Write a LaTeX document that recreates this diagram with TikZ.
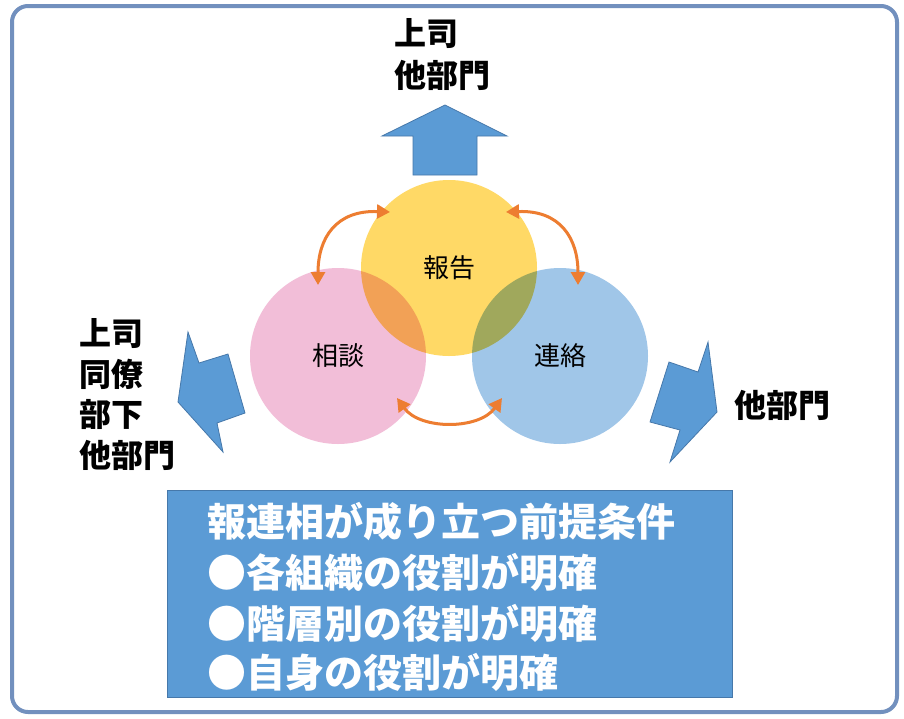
\documentclass[tikz,border=0pt]{standalone}
\usepackage{fontspec}
\newfontfamily\jp{Noto Sans CJK JP}
\usetikzlibrary{arrows.meta}
\definecolor{frameblue}{RGB}{114,144,190}
\definecolor{arrowblue}{RGB}{91,155,213}
\definecolor{arrowedge}{RGB}{70,120,170}
\definecolor{cyellow}{RGB}{255,217,102}
\definecolor{cpink}{RGB}{242,190,216}
\definecolor{cblue}{RGB}{160,198,232}
\definecolor{corange}{RGB}{237,125,49}
\tikzset{
  bubble/.style={circle, minimum size=176pt, inner sep=0pt},
  bubbletext/.style={font=\jp\fontsize{26}{30}\selectfont, text height=22.9pt, text depth=3.1pt, inner sep=0pt},
  outlabel/.style={font=\jp\bfseries\fontsize{32}{36}\selectfont, anchor=west, text height=28.2pt, text depth=3.8pt, inner sep=0pt},
  boxline/.style={font=\jp\bfseries\fontsize{39}{44}\selectfont, text=white, anchor=west, text height=34.3pt, text depth=4.7pt, inner sep=0pt},
  bigarrow/.style={fill=arrowblue, draw=arrowedge, line width=0.8pt, line join=miter},
  oarrow/.style={draw=corange, line width=3pt, {Triangle[length=13pt,width=14pt]}-{Triangle[length=13pt,width=14pt]}}
}
\begin{document}
\begin{tikzpicture}[x=1pt,y=-1pt]
\useasboundingbox (0,0) rectangle (904,718);
\fill[white] (0,0) rectangle (904,718);
% frame
\draw[frameblue, line width=4pt, rounded corners=16pt] (12,6) rectangle (897,712);

% circles
\begin{scope}[blend mode=multiply]
  \node[bubble, fill=cpink] (sodan) at (338,356) {};
  \node[bubble, fill=cblue] (renraku) at (560,356) {};
  \node[bubble, fill=cyellow] (hokoku) at (449,268) {};
\end{scope}
\node[bubbletext] (thokoku) at (hokoku.center) {報告};
\node[bubbletext] (tsodan) at (sodan.center) {相談};
\node[bubbletext] (trenraku) at (renraku.center) {連絡};

% orange double arrows
\coordinate (a1) at (390,212);
\coordinate (a2) at (318,285);
\coordinate (b1) at (506,212);
\coordinate (b2) at (578,285);
\coordinate (c1) at (397,398);
\coordinate (c2) at (502,398);
\draw[oarrow] (a1) .. controls (336,210) and (318,238) .. (a2);
\draw[oarrow] (b1) .. controls (560,210) and (578,238) .. (b2);
\draw[oarrow] (c1) .. controls (420,430) and (479,430) .. (c2);

% up arrow
\draw[bigarrow] (445,105) -- (507,136) -- (477,136) -- (477,175) -- (413,175) -- (413,136) -- (382,136) -- cycle;
% left arrow
\draw[bigarrow] (188,332) -- (199,363) -- (228,354) -- (245,413) -- (217,423) -- (223,452) -- (178,402) -- cycle;
% right arrow
\draw[bigarrow] (708,342) -- (698,372) -- (669,362) -- (650,422) -- (680,430) -- (670,462) -- (717,412) -- cycle;

% outer labels
\node[outlabel] (top1) at (394,33) {上司};
\node[outlabel] (top2) at (394,75) {他部門};
\node[outlabel] (left1) at (79,333) {上司};
\node[outlabel] (left2) at (79,374) {同僚};
\node[outlabel] (left3) at (79,414) {部下};
\node[outlabel] (left4) at (79,455) {他部門};
\node[outlabel] (right1) at (734,405) {他部門};

% bottom box
\draw[fill=arrowblue, draw=arrowedge, line width=1pt] (167,490) rectangle (732,697);
\node[boxline] (l1) at (207,522) {報連相が成り立つ前提条件};
\node[boxline] (l2) at (207,573) {●各組織の役割が明確};
\node[boxline] (l3) at (207,624) {●階層別の役割が明確};
\node[boxline] (l4) at (207,673) {●自身の役割が明確};
\end{tikzpicture}
\end{document}
